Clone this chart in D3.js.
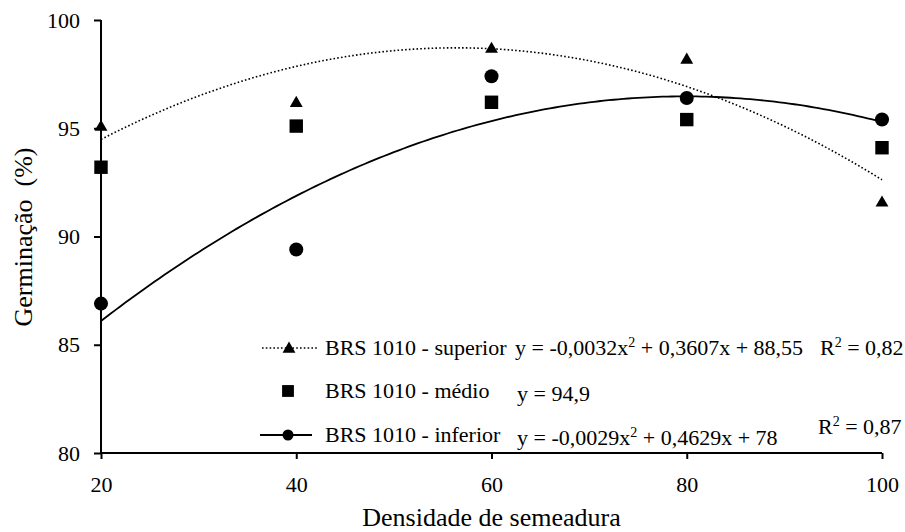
<!DOCTYPE html>
<html><head><meta charset="utf-8">
<script src="https://cdn.jsdelivr.net/npm/d3@7"></script>
<style>body{margin:0;background:#fff}svg{display:block}</style>
</head><body><svg id="c" width="905" height="532"></svg>
<script>
const densidade = [20, 40, 60, 80, 100];
const superior = [95.1, 96.2, 98.7, 98.2, 91.6];
const medio = [93.2, 95.1, 96.2, 95.4, 94.1];
const inferior = [86.9, 89.4, 97.4, 96.4, 95.4];
const coefSuperior = [-0.0032, 0.3607, 88.55];
const coefInferior = [-0.0029, 0.4629, 78];
const xTicks = [20, 40, 60, 80, 100];
const yTicks = [80, 85, 90, 95, 100];
const seriesNames = ["BRS 1010 - superior", "BRS 1010 - médio", "BRS 1010 - inferior"];

const FS = 22;
const svg = d3.select("#c");
const x = d3.scaleLinear().domain([20, 100]).range([101, 882]);
const y = d3.scaleLinear().domain([80, 100]).range([453, 20]);

function serif(sel, size) {
  return sel.style("font-family", "'Liberation Serif'").style("font-size", (size || FS) + "px").style("fill", "#000");
}

const xAxis = svg.append("g").attr("transform", "translate(0,453)")
  .call(d3.axisBottom(x).tickValues(xTicks).tickSize(6).tickPadding(17).tickFormat(d3.format("d")));
const yAxis = svg.append("g").attr("transform", "translate(101,0)")
  .call(d3.axisLeft(y).tickValues(yTicks).tickSize(7).tickPadding(14).tickFormat(d3.format("d")));
[xAxis, yAxis].forEach(a => {
  a.select(".domain").attr("stroke", "#000").attr("stroke-width", 2);
  a.selectAll(".tick line").attr("stroke", "#000").attr("stroke-width", 2);
  serif(a.selectAll(".tick text"));
});
xAxis.select(".domain").attr("d", `M${x(20)},0H${x(100)}`);
yAxis.select(".domain").attr("d", `M0,${y(80)}V${y(100)}`);

const poly = (c, v) => c[0] * v * v + c[1] * v + c[2];
const xs = d3.range(20, 100.01, 0.5);
const line = d3.line().x(d => x(d[0])).y(d => y(d[1]));
svg.append("path").attr("d", line(xs.map(v => [v, poly(coefSuperior, v)])))
  .attr("fill", "none").attr("stroke", "#000").attr("stroke-width", 1.6).attr("stroke-dasharray", "1.6,2.2");
svg.append("path").attr("d", line(xs.map(v => [v, poly(coefInferior, v)])))
  .attr("fill", "none").attr("stroke", "#000").attr("stroke-width", 1.8);

const tri = d3.symbol().type(d3.symbolTriangle).size(72);
const sq = d3.symbol().type(d3.symbolSquare).size(180);
const circ = d3.symbol().type(d3.symbolCircle).size(155);
svg.append("g").selectAll("path").data(densidade.map((d, i) => [d, superior[i]])).join("path")
  .attr("d", tri).attr("transform", d => `translate(${x(d[0])},${y(d[1]) + 1})`).attr("fill", "#000");
svg.append("g").selectAll("path").data(densidade.map((d, i) => [d, medio[i]])).join("path")
  .attr("d", sq).attr("transform", d => `translate(${x(d[0])},${y(d[1])})`).attr("fill", "#000");
svg.append("g").selectAll("path").data(densidade.map((d, i) => [d, inferior[i]])).join("path")
  .attr("d", circ).attr("transform", d => `translate(${x(d[0])},${y(d[1])})`).attr("fill", "#000");

const lg = svg.append("g");
const rows = [355, 398, 442];
lg.append("line").attr("x1", 262).attr("x2", 318).attr("y1", rows[0] - 7).attr("y2", rows[0] - 7)
  .attr("stroke", "#000").attr("stroke-width", 1.6).attr("stroke-dasharray", "1.6,2.2");
lg.append("path").attr("d", tri).attr("transform", `translate(289,${rows[0] - 6})`);
lg.append("path").attr("d", d3.symbol().type(d3.symbolSquare).size(140)).attr("transform", `translate(288,${rows[1] - 7})`);
lg.append("line").attr("x1", 260).attr("x2", 312).attr("y1", rows[2] - 7).attr("y2", rows[2] - 7)
  .attr("stroke", "#000").attr("stroke-width", 1.8);
lg.append("path").attr("d", d3.symbol().type(d3.symbolCircle).size(95)).attr("transform", `translate(288,${rows[2] - 7})`);
seriesNames.forEach((n, i) => serif(lg.append("text").attr("x", 325).attr("y", rows[i])).text(n));

function eq(xp, yp, parts) {
  const t = serif(lg.append("text").attr("x", xp).attr("y", yp));
  parts.forEach(p => {
    if (p.sup) t.append("tspan").style("font-size", "14px").attr("dy", -8).text(p.s);
    else t.append("tspan").attr("dy", p.after ? 8 : 0).text(p.s);
  });
}
eq(515, rows[0], [{s: "y = -0,0032x"}, {s: "2", sup: true}, {s: " + 0,3607x + 88,55", after: true}]);
eq(820, rows[0], [{s: "R"}, {s: "2", sup: true}, {s: " = 0,82", after: true}]);
eq(517, rows[1] + 3, [{s: "y = 94,9"}]);
eq(517, rows[2] + 3, [{s: "y = -0,0029x"}, {s: "2", sup: true}, {s: " + 0,4629x + 78", after: true}]);
eq(818, rows[2] - 8, [{s: "R"}, {s: "2", sup: true}, {s: " = 0,87", after: true}]);

serif(svg.append("text").attr("x", x(60)).attr("y", 526).attr("text-anchor", "middle"), 26)
  .text("Densidade de semeadura");
serif(svg.append("text").attr("transform", "translate(32,237) rotate(-90)").attr("text-anchor", "middle"), 26)
  .style("white-space", "pre").text("Germinação  (%)");
</script></body></html>
